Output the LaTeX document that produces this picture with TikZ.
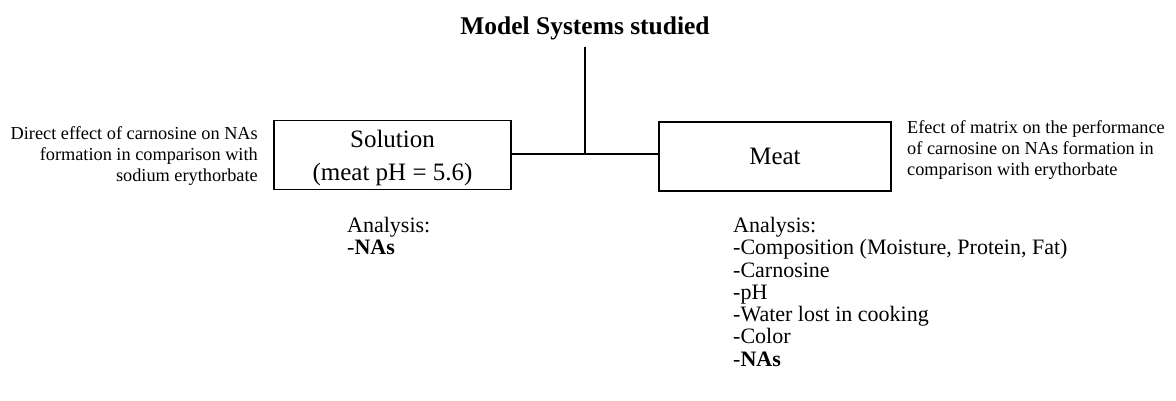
\documentclass[tikz,border=0pt]{standalone}
\usepackage{fontspec}
\setmainfont{Liberation Serif}
\begin{document}
\begin{tikzpicture}[x=1pt,y=-1pt,
  box/.style={draw=black,line width=1.4pt,inner sep=0pt,align=center,font=\fontsize{25}{33}\selectfont},
  note/.style={inner sep=0pt,font=\fontsize{18.3}{21}\selectfont},
  analysis/.style={inner sep=0pt,align=left,anchor=north west,font=\fontsize{22}{22.3}\selectfont},
  link/.style={line width=1.4pt,black}]
\useasboundingbox (0,0) rectangle (1176,401);
\node[anchor=base,inner sep=0pt,font=\bfseries\fontsize{25.5}{30}\selectfont] (title) at (585,35) {Model Systems studied};
\node[box,minimum width=237pt,minimum height=69pt] (sol) at (392.5,155) {\rule{0pt}{24pt}Solution\\(meat pH = 5.6)};
\node[box,minimum width=232pt,minimum height=69pt] (meat) at (775,156.5) {Meat};
\coordinate (j) at (585,154);
\draw[link] ([yshift=-6pt]title.south) -- (j);
\draw[link] (sol.east |- j) -- (meat.west |- j);
\node[note,align=right,anchor=north east] (lnote) at (258,126.7) {Direct effect of carnosine on NAs\\formation in comparison with\\sodium erythorbate};
\node[note,align=left,anchor=north west] (rnote) at (907,120.7) {Efect of matrix on the performance\\of carnosine on NAs formation in\\comparison with erythorbate};
\node[analysis] (lan) at (347,217) {Analysis:\\-\textbf{NAs}};
\node[analysis] (ran) at (733,217) {Analysis:\\-Composition (Moisture, Protein, Fat)\\-Carnosine\\-pH\\-Water lost in cooking\\-Color\\-\textbf{NAs}};
\end{tikzpicture}
\end{document}
